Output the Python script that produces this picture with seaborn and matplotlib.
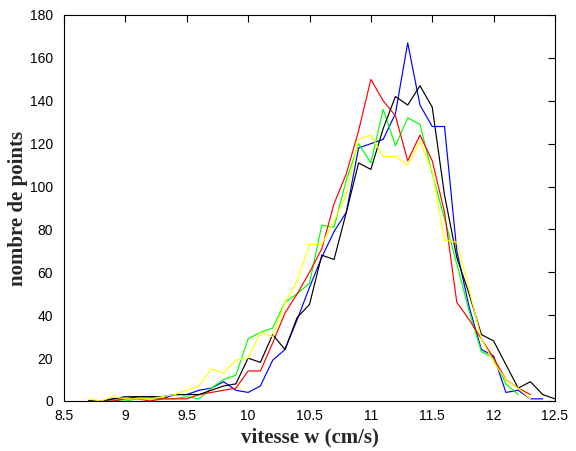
import numpy as np
import pandas as pd
import matplotlib
matplotlib.use("Agg")
import matplotlib.pyplot as plt
import seaborn as sns

nan = np.nan

vitesse = [8.7, 8.8, 8.9, 9.0, 9.1, 9.2, 9.3, 9.4, 9.5, 9.6,
           9.7, 9.8, 9.9, 10.0, 10.1, 10.2, 10.3, 10.4, 10.5, 10.6,
           10.7, 10.8, 10.9, 11.0, 11.1, 11.2, 11.3, 11.4, 11.5, 11.6,
           11.7, 11.8, 11.9, 12.0, 12.1, 12.2, 12.3, 12.4, 12.5]

bleu = [0, 0, 1, 1, 2, 2, 1, 3, 3, 5,
        6, 9, 5, 4, 7, 19, 24, 38, 53, 67,
        79, 88, 118, 120, 122, 134, 167, 138, 128, 128,
        70, 44, 24, 21, 4, 5, 1, 1, nan]

noir = [0, 0, 1, 2, 2, 2, 2, 3, 3, 3,
        5, 7, 8, 20, 18, 31, 24, 39, 45, 68,
        66, 88, 111, 108, 127, 142, 138, 147, 137, 96,
        67, 50, 31, 28, 17, 6, 9, 3, 1]

rouge = [0, 0, 0, 1, 1, 0, 1, 1, 1, 3,
         4, 5, 6, 14, 14, 27, 41, 50, 60, 71,
         92, 106, 126, 150, 140, 133, 112, 124, 112, 88,
         46, 38, 29, 20, 10, 6, 3, nan, nan]

vert = [0, 0, 0, 0, 1, 1, 1, 1, 2, 1,
        6, 10, 12, 29, 32, 34, 46, 50, 55, 82,
        81, 103, 120, 111, 136, 119, 132, 129, 106, 85,
        64, 42, 23, 20, 8, 3, nan, nan, nan]

jaune = [1, 0, 2, 1, 1, 1, 2, 3, 5, 7,
         15, 13, 19, 20, 32, 30, 46, 56, 73, 73,
         84, 96, 122, 124, 114, 114, 110, 121, 107, 75,
         74, 52, 29, 18, 10, 6, 1, nan, nan]

series_noms = ["bleu", "vert", "rouge", "noir", "jaune"]
couleurs = {"bleu": "#0000ff", "vert": "#00ff00", "rouge": "#ff0000",
            "noir": "#000000", "jaune": "#ffff00"}

x_ticks = [8.5, 9, 9.5, 10, 10.5, 11, 11.5, 12, 12.5]
x_tick_labels = ["8.5", "9", "9.5", "10", "10.5", "11", "11.5", "12", "12.5"]
y_ticks = [0, 20, 40, 60, 80, 100, 120, 140, 160, 180]

data = {"bleu": bleu, "vert": vert, "rouge": rouge, "noir": noir, "jaune": jaune}
frames = []
for nom in series_noms:
    frames.append(pd.DataFrame({"vitesse": vitesse, "n": data[nom], "serie": nom}))
df = pd.concat(frames, ignore_index=True).dropna()

sns.set_style("white")
plt.rcParams["font.family"] = ["Liberation Sans", "DejaVu Sans"]

fig = plt.figure(figsize=(5.76, 4.51), dpi=100)
ax = fig.add_axes([64 / 576, 50 / 451, 491 / 576, 386 / 451])

sns.lineplot(data=df, x="vitesse", y="n", hue="serie", hue_order=series_noms,
             palette=couleurs, linewidth=0.85, legend=False, ax=ax,
             estimator=None, sort=False)

ax.set_xlim(8.5, 12.5)
ax.set_ylim(0, 180)
ax.set_xticks(x_ticks)
ax.set_xticklabels(x_tick_labels)
ax.set_yticks(y_ticks)
for s in ax.spines.values():
    s.set_visible(True)
    s.set_color("black")
    s.set_linewidth(0.8)
ax.tick_params(direction="in", length=5, width=0.8, top=True, right=True,
               labelsize=10, colors="black")
ax.tick_params(axis="y", pad=8)
ax.tick_params(axis="x", pad=6)

ax.set_xlabel("vitesse w (cm/s)", fontsize=15, fontweight="bold",
              family=["Liberation Serif", "DejaVu Serif"], labelpad=3)
ax.set_ylabel("nombre de points", fontsize=15, fontweight="bold",
              family=["Liberation Serif", "DejaVu Serif"], labelpad=1)

fig.savefig("out.png", dpi=100, facecolor="white")
